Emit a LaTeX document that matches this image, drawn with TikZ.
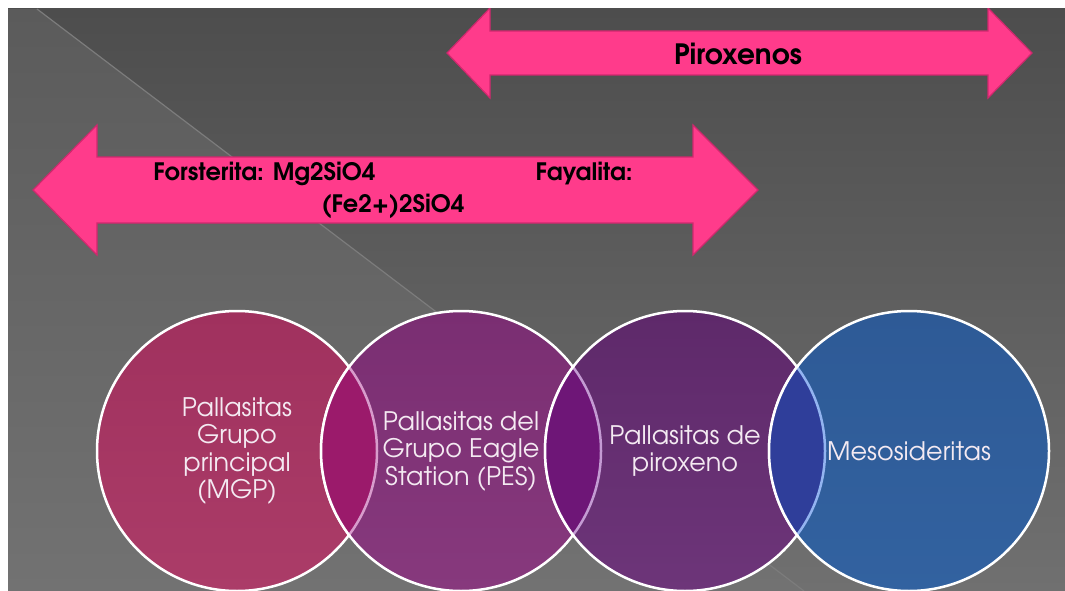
\documentclass[tikz,border=0pt]{standalone}
\usepackage{fontspec}
\setmainfont{TeX Gyre Adventor}
\usetikzlibrary{positioning}

\definecolor{fondoarriba}{HTML}{4D4D4D}
\definecolor{fondomedio}{HTML}{545454}
\definecolor{fondoabajo}{HTML}{707070}
\definecolor{clarooarriba}{HTML}{5B5B5B}
\definecolor{claromedio}{HTML}{646464}
\definecolor{claroabajo}{HTML}{727272}
\definecolor{raya}{HTML}{7C7C7C}
\definecolor{rosa}{HTML}{FF3B8B}
\definecolor{rosaborde}{HTML}{D0286E}
\definecolor{textocirc}{HTML}{F4EAF2}
\definecolor{mgpA}{HTML}{A0315E}
\definecolor{mgpB}{HTML}{AB3C68}
\definecolor{pesA}{HTML}{7A2E72}
\definecolor{pesB}{HTML}{87397D}
\definecolor{pirA}{HTML}{5E296A}
\definecolor{pirB}{HTML}{6D3579}
\definecolor{mesA}{HTML}{2E5A96}
\definecolor{mesB}{HTML}{3262A0}
\definecolor{lenteA}{HTML}{9B1A6B}
\definecolor{lenteB}{HTML}{6E1677}
\definecolor{lenteC}{HTML}{2F3E9A}
\definecolor{arcoA}{HTML}{D89CCC}
\definecolor{arcoB}{HTML}{C49BD3}
\definecolor{arcoC}{HTML}{93B4F0}

\begin{document}
\begin{tikzpicture}[
    x = 1pt, y = -1pt, % pixel coordinates
    node distance = -56pt, % circles overlap
    pallas/.style = {circle, minimum size = 280pt, inner sep = 0pt,
      outer sep = 0pt, draw = white, line width = 2.5pt, text = textocirc,
      align = center, font = \fontsize{25.5}{27.5}\selectfont},
    flecha/.style = {fill = rosa, draw = rosaborde, line width = 1.2pt},
    rotulo/.style = {text = black, align = center, font = \bfseries}
    ]

    \useasboundingbox (0,0) rectangle (1065,591);
    \fill[white] (0,0) rectangle (1065,591);

    \begin{scope}
    \clip (8,9) rectangle (1065,591);
    % background
    \shade[top color = fondoarriba, middle color = fondomedio,
      bottom color = fondoabajo] (8,9) rectangle (1065,591);
    \shade[top color = clarooarriba, middle color = claromedio,
      bottom color = claroabajo] (8,9) -- (37,9) -- (804,591) -- (8,591) -- cycle;
    \draw[raya, line width = 1.2pt] (37,9) -- (804,591);

    % arrows
    \draw[flecha] (447,53) -- (490,8) -- (490,31) -- (988,31) -- (988,8)
      -- (1032,53) -- (988,98) -- (988,75) -- (490,75) -- (490,98) -- cycle;
    \node[rotulo, font = \bfseries\fontsize{28}{30}\selectfont] (piroxenos) at (738,54) {Piroxenos};

    \draw[flecha] (33,190) -- (97,125) -- (97,157) -- (693,157) -- (693,125)
      -- (758,190) -- (693,255) -- (693,223) -- (97,223) -- (97,255) -- cycle;
    \node[rotulo, font = \bfseries\fontsize{24}{32}\selectfont] (olivinos) at (393,190)
      {Forsterita: Mg2SiO4\hspace{160pt}Fayalita:\\(Fe2+)2SiO4};

    % circles
    \node[pallas, top color = mgpA, bottom color = mgpB] (mgp) at (237,451)
      {Pallasitas\\Grupo\\principal\\(MGP)};
    \node[pallas, top color = pesA, bottom color = pesB, right = of mgp] (pes)
      {Pallasitas del\\Grupo Eagle\\Station (PES)};
    \node[pallas, top color = pirA, bottom color = pirB, right = of pes] (pirox)
      {Pallasitas de\\piroxeno};
    \node[pallas, top color = mesA, bottom color = mesB, right = of pirox] (meso)
      {Mesosideritas};

    % overlaps
    \foreach \a/\b/\lente/\arco in {mgp/pes/lenteA/arcoA, pes/pirox/lenteB/arcoB,
      pirox/meso/lenteC/arcoC} {
      \begin{scope}
        \clip (\a.center) circle (140pt);
        \fill[\lente] (\b.center) circle (140pt);
      \end{scope}
      \begin{scope}
        \clip (\b.center) circle (139pt);
        \draw[\arco, line width = 2.5pt] (\a.center) circle (140pt);
      \end{scope}
      \begin{scope}
        \clip (\a.center) circle (142pt);
        \draw[white, line width = 2.5pt] (\b.center) circle (140pt);
      \end{scope}
    }
    \end{scope}
\end{tikzpicture}
\end{document}
